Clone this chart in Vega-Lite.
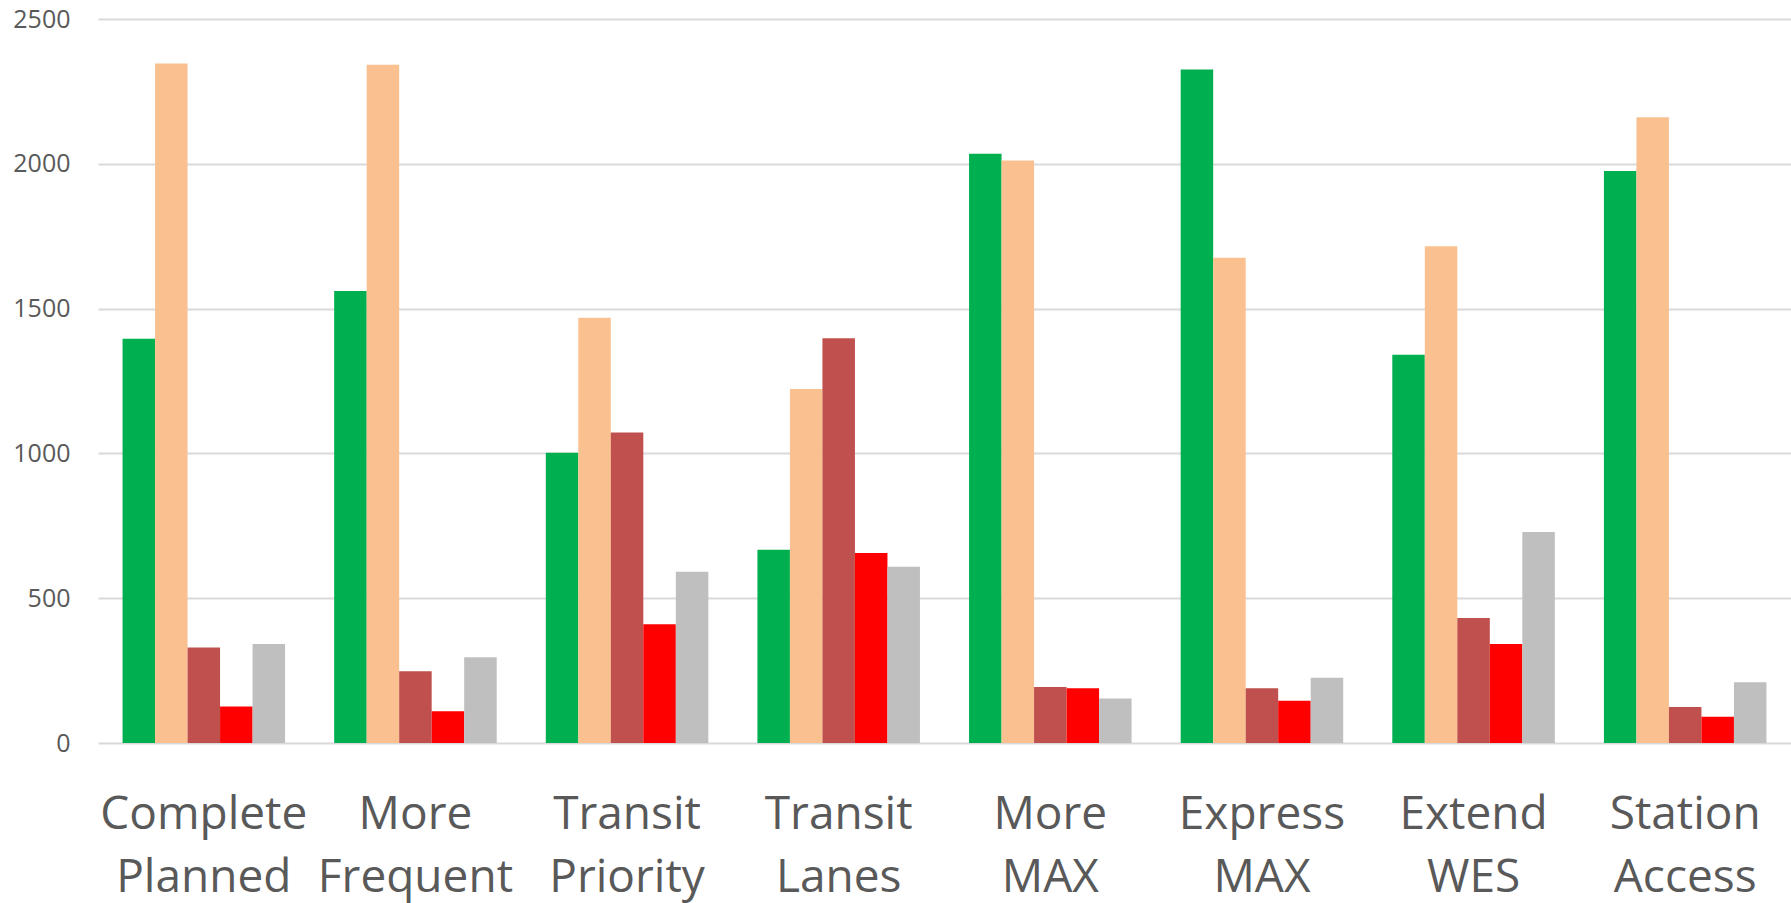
{
  "$schema": "https://vega.github.io/schema/vega-lite/v6.json",
  "width": 1693,
  "height": 724,
  "autosize": {"type": "none"},
  "padding": {"left": 98, "top": 19, "right": 0, "bottom": 160},
  "background": "white",
  "config": {"view": {"stroke": null}, "font": "Open Sans"},
  "data": {
    "values": [
      {"project": "Complete Planned", "series": "S1", "value": 1396},
      {"project": "Complete Planned", "series": "S2", "value": 2346},
      {"project": "Complete Planned", "series": "S3", "value": 330},
      {"project": "Complete Planned", "series": "S4", "value": 126},
      {"project": "Complete Planned", "series": "S5", "value": 342},
      {"project": "More Frequent", "series": "S1", "value": 1561},
      {"project": "More Frequent", "series": "S2", "value": 2342},
      {"project": "More Frequent", "series": "S3", "value": 248},
      {"project": "More Frequent", "series": "S4", "value": 110},
      {"project": "More Frequent", "series": "S5", "value": 296},
      {"project": "Transit Priority", "series": "S1", "value": 1002},
      {"project": "Transit Priority", "series": "S2", "value": 1468},
      {"project": "Transit Priority", "series": "S3", "value": 1072},
      {"project": "Transit Priority", "series": "S4", "value": 410},
      {"project": "Transit Priority", "series": "S5", "value": 591},
      {"project": "Transit Lanes", "series": "S1", "value": 667},
      {"project": "Transit Lanes", "series": "S2", "value": 1222},
      {"project": "Transit Lanes", "series": "S3", "value": 1398},
      {"project": "Transit Lanes", "series": "S4", "value": 656},
      {"project": "Transit Lanes", "series": "S5", "value": 609},
      {"project": "More MAX", "series": "S1", "value": 2035},
      {"project": "More MAX", "series": "S2", "value": 2011},
      {"project": "More MAX", "series": "S3", "value": 193},
      {"project": "More MAX", "series": "S4", "value": 189},
      {"project": "More MAX", "series": "S5", "value": 154},
      {"project": "Express MAX", "series": "S1", "value": 2326},
      {"project": "Express MAX", "series": "S2", "value": 1676},
      {"project": "Express MAX", "series": "S3", "value": 189},
      {"project": "Express MAX", "series": "S4", "value": 146},
      {"project": "Express MAX", "series": "S5", "value": 225},
      {"project": "Extend WES", "series": "S1", "value": 1341},
      {"project": "Extend WES", "series": "S2", "value": 1715},
      {"project": "Extend WES", "series": "S3", "value": 432},
      {"project": "Extend WES", "series": "S4", "value": 342},
      {"project": "Extend WES", "series": "S5", "value": 729},
      {"project": "Station Access", "series": "S1", "value": 1975},
      {"project": "Station Access", "series": "S2", "value": 2161},
      {"project": "Station Access", "series": "S3", "value": 124},
      {"project": "Station Access", "series": "S4", "value": 91},
      {"project": "Station Access", "series": "S5", "value": 210}
    ]
  },
  "mark": {"type": "bar"},
  "encoding": {
    "x": {
      "field": "project",
      "type": "nominal",
      "sort": null,
      "scale": {"paddingInner": 0.232, "paddingOuter": 0.116},
      "axis": {
        "title": null,
        "labelAngle": 0,
        "labelExpr": "split(datum.label, ' ')",
        "labelFontSize": 46,
        "labelLineHeight": 63,
        "labelColor": "#595959",
        "labelPadding": 49,
        "labelLimit": 0,
        "labelOverlap": false,
        "ticks": false,
        "tickSize": 0,
        "domain": false,
        "labelBaseline": "top"
      }
    },
    "xOffset": {"field": "series", "type": "nominal", "sort": null},
    "y": {
      "field": "value",
      "type": "quantitative",
      "scale": {"domain": [0, 2500], "nice": false},
      "axis": {
        "title": null,
        "values": [0, 500, 1000, 1500, 2000, 2500],
        "format": "d",
        "labelFontSize": 25,
        "labelColor": "#595959",
        "labelPadding": 28,
        "ticks": false,
        "tickSize": 0,
        "domain": false,
        "grid": true,
        "gridColor": "#D9D9D9",
        "gridWidth": 2
      }
    },
    "color": {
      "field": "series",
      "type": "nominal",
      "scale": {
        "domain": ["S1", "S2", "S3", "S4", "S5"],
        "range": ["#00B050", "#FAC090", "#C0504D", "#FF0000", "#BFBFBF"]
      },
      "legend": null
    }
  }
}
